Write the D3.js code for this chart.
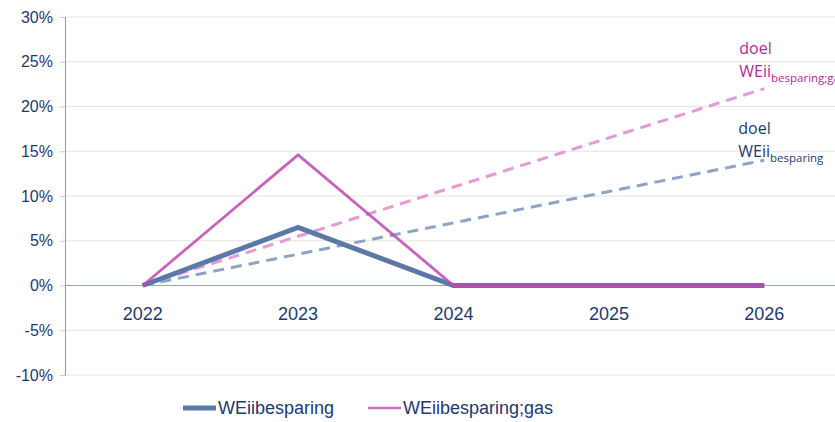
<!DOCTYPE html>
<html>
<head>
<meta charset="utf-8">
<script src="https://cdn.jsdelivr.net/npm/d3@7"></script>
<style>
  body { margin: 0; background: #fff; }
  text { font-family: "Liberation Sans", Arial, sans-serif; }
</style>
</head>
<body>
<script>
// data
var years = ["2022", "2023", "2024", "2025", "2026"];
var besparing = [0, 6.5, 0, 0, 0];
var besparingGas = [0, 14.6, 0, 0, 0];
var doelBesparing = [0, 3.5, 7, 10.5, 14];
var doelBesparingGas = [0, 5.5, 11, 16.5, 22];
var yTicks = [30, 25, 20, 15, 10, 5, 0, -5, -10];

var margin = {top: 17, right: -7, bottom: 47, left: 65},
    width = 835 - margin.left - margin.right,
    height = 422 - margin.top - margin.bottom;

var x = d3.scalePoint().domain(years).range([0, width]).padding(0.5);
var y = d3.scaleLinear().domain([-10, 30]).range([height, 0]);

var svg = d3.select("body").append("svg")
    .attr("width", 835)
    .attr("height", 422)
  .append("g")
    .attr("transform", "translate(" + margin.left + "," + margin.top + ")");

var navy = "#1c3a72";

// gridlines
svg.selectAll(".grid").data(yTicks).enter().append("line")
    .attr("x1", 0).attr("x2", width)
    .attr("y1", function(d) { return y(d); })
    .attr("y2", function(d) { return y(d); })
    .style("stroke", function(d) { return d === 0 ? "#8aa5d8" : "#e3e3e3"; })
    .style("stroke-width", 1.2);

// y axis
var yAxis = svg.append("g")
    .call(d3.axisLeft(y).tickValues(yTicks).tickSize(5).tickPadding(7)
      .tickFormat(function(d) { return d + "%"; }));
yAxis.select(".domain").style("stroke", "#7f9bd3");
yAxis.selectAll(".tick line").style("stroke", "#c8c8c8");
yAxis.selectAll("text").style("font-size", "16px").style("fill", navy);

// x labels
svg.selectAll(".xlab").data(years).enter().append("text")
    .attr("x", function(d) { return x(d); })
    .attr("y", y(0) + 34)
    .attr("text-anchor", "middle")
    .style("font-size", "18px")
    .style("fill", navy)
    .text(function(d) { return d; });

function lineOf(vals) {
  return d3.line()
    .x(function(d, i) { return x(years[i]); })
    .y(function(d) { return y(d); })(vals);
}

// dashed target lines
svg.append("path").attr("d", lineOf(doelBesparing))
    .style("fill", "none").style("stroke", "#8fa3c4")
    .style("stroke-width", 3).style("stroke-dasharray", "11,7");
svg.append("path").attr("d", lineOf(doelBesparingGas))
    .style("fill", "none").style("stroke", "#e39ad6")
    .style("stroke-width", 3).style("stroke-dasharray", "11,7");

// solid lines
svg.append("path").attr("d", lineOf(besparing))
    .style("fill", "none").style("stroke", "#5c78a6")
    .style("stroke-width", 5).style("stroke-linejoin", "miter");
svg.append("path").attr("d", lineOf(besparingGas))
    .style("fill", "none").style("stroke", "#bd48b0").style("stroke-opacity", 0.85)
    .style("stroke-width", 2.8);

// annotations
function annot(xp, yp, color, sub) {
  svg.append("text").attr("x", xp).attr("y", yp)
      .style("font-family", "'Open Sans', sans-serif")
      .style("font-size", "16px").style("fill", color).text("doel");
  var t = svg.append("text").attr("x", xp).attr("y", yp + 23)
      .style("font-family", "'Open Sans', sans-serif")
      .style("font-size", "16px").style("fill", color);
  t.append("tspan").text("WEii");
  t.append("tspan").attr("dy", 5).style("font-size", "11.5px").text(sub);
}
annot(x("2026") - 25, y(25.9), "#b4289c", "besparing;gas");
annot(x("2026") - 26, y(16.9), navy, "besparing");

// legend
var legend = [
  {name: "WEiibesparing", color: "#5c78a6", w: 5, x: 183},
  {name: "WEiibesparing;gas", color: "#d06fc4", w: 2.6, x: 368}
];
var lg = svg.selectAll(".leg").data(legend).enter().append("g")
    .attr("transform", function(d) { return "translate(" + (d.x - margin.left) + "," + (408 - margin.top) + ")"; });
lg.append("line").attr("x1", 0).attr("x2", 33).attr("y1", 0).attr("y2", 0)
    .style("stroke", function(d) { return d.color; })
    .style("stroke-width", function(d) { return d.w; });
lg.append("text").attr("x", 35).attr("y", 6)
    .style("font-size", "18px").style("fill", navy)
    .text(function(d) { return d.name; });
</script>
</body>
</html>
